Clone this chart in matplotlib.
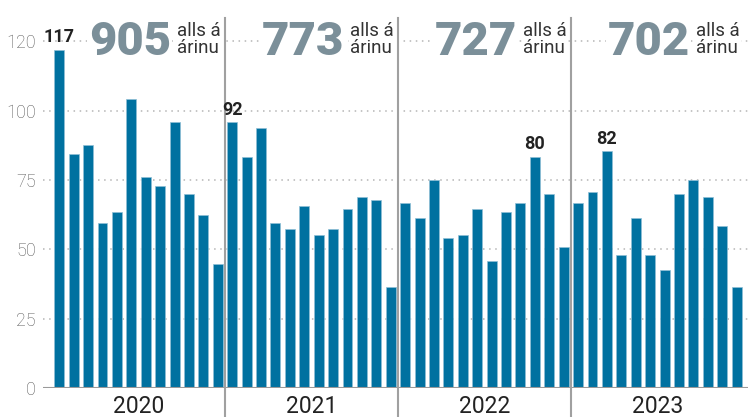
import numpy as np
import matplotlib
matplotlib.use('Agg')
import matplotlib.pyplot as plt
from matplotlib import font_manager

# mánaðarleg gildi, 2020-2023
years = ['2020', '2021', '2022', '2023']
values_2020 = [117, 81, 84, 57, 61, 100, 73, 70, 92, 67, 60, 43]
values_2021 = [92, 80, 90, 57, 55, 63, 53, 55, 62, 66, 65, 35]
values_2022 = [64, 59, 72, 52, 53, 62, 44, 61, 64, 80, 67, 49]
values_2023 = [64, 68, 82, 46, 59, 46, 41, 67, 72, 66, 56, 35]
year_totals = [905, 773, 727, 702]

# gridlines sit at multiples of 24 but the original labels them like this
grid_values = [0, 24, 48, 72, 96, 120]
grid_labels = ['0', '25', '50', '75', '100', '120']

BAR_COLOR = '#0071a0'
TOTAL_COLOR = '#7b8f99'
TEXT_DARK = '#222222'

names = {f.name for f in font_manager.fontManager.ttflist}
NARROW = 'Liberation Sans Narrow' if 'Liberation Sans Narrow' in names else 'Roboto'
MAIN = 'Roboto' if 'Roboto' in names else 'DejaVu Sans'

all_values = values_2020 + values_2021 + values_2022 + values_2023
x = np.arange(len(all_values))

fig = plt.figure(figsize=(7.48, 4.17), dpi=100)
ax = fig.add_axes([43 / 748, 28.7 / 417, 705 / 748, 388.3 / 417])

# dotted gridlines
for g in grid_values[1:]:
    ax.axhline(g, color='#b5b5b5', lw=1.1, ls=(0, (1, 3)), zorder=0)

ax.bar(x, all_values, width=0.69, color=BAR_COLOR, edgecolor='#8fbfd6',
       linewidth=0.5, zorder=2)

ax.set_xlim(-1.13, 47.79)
ax.set_ylim(0, 134.2)

for s in ax.spines.values():
    s.set_visible(False)
ax.axhline(0, color='#9a9a9a', lw=1.5, zorder=3)

ax.set_xticks([])
ax.set_yticks(grid_values)
ax.set_yticklabels(grid_labels)
ax.tick_params(axis='y', length=0, pad=5, labelsize=13, labelcolor='#5a5a5a')
for lab in ax.get_yticklabels():
    lab.set_family(NARROW)
    lab.set_fontweight('light')

n = 12
for k, year in enumerate(years):
    start = k * n
    end = start + n - 0.5
    # year separators
    if k < len(years) - 1:
        ax.plot([end, end], [-10, 128], color='#a0a0a0', lw=1.5,
                clip_on=False, zorder=5)
    # year label
    ax.text(start + 5.5, -6.2, year, ha='center', va='center', fontsize=16.5,
            color=TEXT_DARK, family=MAIN, clip_on=False)
    # totals
    num_right = end - 3.75
    ax.text(num_right, 115.2, str(year_totals[k]), ha='right', va='baseline',
            fontsize=34, fontweight='black', color=TOTAL_COLOR, family=MAIN,
            zorder=4, bbox=dict(facecolor='white', edgecolor='none', pad=1))
    ax.text(num_right + 0.45, 126.6, 'alls á\nárinu', ha='left', va='top',
            fontsize=13.5, color='#333333', family=MAIN, linespacing=0.92,
            zorder=4, bbox=dict(facecolor='white', edgecolor='none', pad=1))
    # highest month of the year
    year_vals = all_values[start:start + n]
    i = start + int(np.argmax(year_vals))
    ax.annotate(str(all_values[i]), (x[i], all_values[i]), xytext=(0, 2.5),
                textcoords='offset points', ha='center', va='bottom',
                fontsize=13, fontweight='bold', color=TEXT_DARK, family=MAIN,
                zorder=6)

fig.savefig('out.png', dpi=100)
